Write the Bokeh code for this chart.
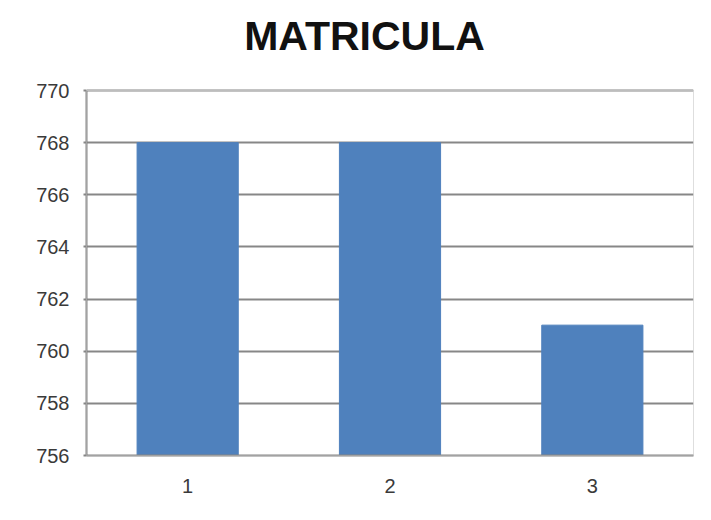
from bokeh.plotting import figure
from bokeh.embed import file_html
from bokeh.resources import INLINE
from bokeh.models import ColumnDataSource, FixedTicker, Label, BoxAnnotation

categories = ["1", "2", "3"]
values = [768, 768, 761]
y_ticks = [756, 758, 760, 762, 764, 766, 768, 770]
y_min, y_max = 756, 770
title_text = "MATRICULA"

src = ColumnDataSource(dict(x=categories, top=values))

# frame spans from the canvas top down to the x axis; extra room above 770 holds the title
px_per_unit = 365 / (y_max - y_min)
y_top = y_max + 90 / px_per_unit

p = figure(width=695, height=504, x_range=categories, y_range=(y_min, y_top),
           output_backend="svg", toolbar_location=None,
           min_border_left=86, min_border_right=2, min_border_top=0,
           min_border_bottom=49)
p.outline_line_color = None

title_label = Label(x=278, y=420, x_units="screen", y_units="screen",
                    text=title_text, text_align="center",
                    text_baseline="alphabetic", text_font="Liberation Sans",
                    text_font_style="bold", text_font_size="41px",
                    text_color="#111111")
p.add_layout(title_label)

# light border of the plot area (right edge visible)
area = BoxAnnotation(bottom=y_min, top=y_max, fill_alpha=0, fill_color=None,
                     line_color="#bdbdbd", line_width=1, line_alpha=1)
p.add_layout(area)

p.vbar(x="x", top="top", bottom=y_min, width=0.5, source=src,
       fill_color="#4F81BD", line_color="#4F81BD")

p.xgrid.grid_line_color = None
p.ygrid.grid_line_color = "#878787"
p.ygrid.grid_line_width = 2
p.ygrid.ticker = FixedTicker(ticks=y_ticks)

p.yaxis.ticker = FixedTicker(ticks=y_ticks)
p.yaxis.bounds = (y_min, y_max)
for ax in (p.xaxis, p.yaxis):
    ax.axis_line_color = "#868686"
    ax.axis_line_width = 2
    ax.major_label_text_font = "Liberation Sans"
    ax.major_label_text_font_size = "20px"
    ax.major_label_text_color = "#3a3a3a"
    ax.minor_tick_line_color = None

p.yaxis.major_tick_line_color = "#868686"
p.yaxis.major_tick_line_width = 2
p.yaxis.major_tick_in = 0
p.yaxis.major_tick_out = 3
p.yaxis.major_label_standoff = 14

p.xaxis.major_tick_line_color = None
p.xaxis.major_label_standoff = 17

open("out.html", "w").write(file_html(p, INLINE))
